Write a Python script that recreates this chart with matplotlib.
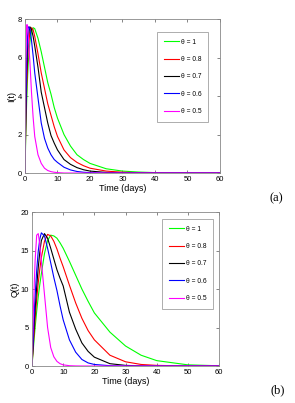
import matplotlib
matplotlib.use("Agg")
import matplotlib.pyplot as plt

t = [0, 0.25, 0.5, 0.75, 1, 1.5, 2, 2.5, 3, 4, 5, 6, 7, 8, 9, 10, 12, 14, 16, 18, 20, 25, 30, 35, 40, 50, 60]

labels = ["\u03b8 = 1", "\u03b8 = 0.8", "\u03b8 = 0.7", "\u03b8 = 0.6", "\u03b8 = 0.5"]
colors = ["#00ff00", "#ff0000", "#000000", "#0000ff", "#ff00ff"]

I_1 = [0, 2.0, 3.6, 4.8, 5.7, 6.8, 7.35, 7.55, 7.5, 7.0, 6.3, 5.5, 4.7, 4.1, 3.4, 2.85, 2.0, 1.4, 0.95, 0.7, 0.5, 0.22, 0.1, 0.05, 0.02, 0.005, 0]
I_08 = [0, 2.5, 4.3, 5.6, 6.5, 7.3, 7.55, 7.45, 7.1, 6.2, 5.2, 4.4, 3.6, 3.0, 2.4, 1.9, 1.2, 0.8, 0.55, 0.38, 0.25, 0.1, 0.04, 0.015, 0.005, 0, 0]
I_07 = [0, 3.0, 5.0, 6.3, 7.1, 7.6, 7.45, 7.1, 6.6, 5.5, 4.2, 3.4, 2.6, 1.95, 1.55, 1.2, 0.7, 0.45, 0.28, 0.17, 0.1, 0.03, 0.01, 0, 0, 0, 0]
I_06 = [0, 3.6, 5.8, 7.0, 7.6, 7.5, 6.9, 6.1, 5.2, 3.9, 2.6, 1.8, 1.3, 0.95, 0.7, 0.55, 0.3, 0.16, 0.08, 0.04, 0.02, 0, 0, 0, 0, 0, 0]
I_05 = [0, 5.5, 7.7, 7.7, 7.2, 5.8, 4.2, 2.9, 1.9, 0.95, 0.5, 0.25, 0.13, 0.07, 0.04, 0.02, 0, 0, 0, 0, 0, 0, 0, 0, 0, 0, 0]

Q_1 = [0, 1.3, 2.6, 3.8, 5.0, 7.1, 9.0, 10.6, 12.0, 14.6, 16.3, 17.0, 16.9, 16.6, 16.0, 15.3, 13.6, 11.8, 10.0, 8.4, 6.9, 4.4, 2.6, 1.4, 0.7, 0.15, 0.03]
Q_08 = [0, 1.6, 3.2, 4.7, 6.1, 8.7, 10.8, 12.6, 14.1, 16.2, 17.1, 16.9, 16.2, 15.2, 14.0, 12.9, 10.5, 8.2, 6.2, 4.6, 3.4, 1.4, 0.55, 0.2, 0.08, 0.01, 0]
Q_07 = [0, 2.0, 3.9, 5.7, 7.4, 10.3, 12.8, 14.8, 16.3, 17.2, 16.6, 15.3, 13.9, 12.5, 11.4, 10.4, 7.0, 4.8, 3.0, 1.9, 1.15, 0.3, 0.08, 0.02, 0, 0, 0]
Q_06 = [0, 2.5, 4.9, 7.1, 9.1, 12.4, 14.9, 16.5, 17.3, 16.9, 15.3, 13.4, 11.5, 9.8, 7.8, 6.0, 3.4, 1.8, 0.85, 0.4, 0.2, 0.04, 0, 0, 0, 0, 0]
Q_05 = [0, 4.0, 7.8, 11.0, 13.7, 17.0, 17.2, 15.8, 13.6, 9.3, 5.0, 2.4, 1.2, 0.6, 0.3, 0.15, 0.04, 0.01, 0, 0, 0, 0, 0, 0, 0, 0, 0]

I_series = [I_1, I_08, I_07, I_06, I_05]
Q_series = [Q_1, Q_08, Q_07, Q_06, Q_05]

xticks = [0, 10, 20, 30, 40, 50, 60]
I_yticks = [0, 2, 4, 6, 8]
Q_yticks = [0, 5, 10, 15, 20]

plt.rcParams['font.family'] = ['Liberation Sans', 'DejaVu Sans']

fig = plt.figure(figsize=(2.95, 4.03), dpi=100)
ax1 = fig.add_axes([0.0847, 0.5707, 0.661, 0.3821])
ax2 = fig.add_axes([0.1085, 0.0918, 0.634, 0.3820])

def style(ax, yticks, ylabel, leg_anchor):
    ax.set_xlim(0, 60)
    ax.set_ylim(yticks[0], yticks[-1])
    ax.set_xticks(xticks)
    ax.set_yticks(yticks)
    ax.tick_params(direction='in', length=2, width=0.5, labelsize=5.5, pad=2,
                   top=True, right=True, colors='#555555', labelcolor='black')
    for s in ax.spines.values():
        s.set_color('#888888')
        s.set_linewidth(0.6)
    ax.set_xlabel('Time (days)', fontsize=6.5, labelpad=1)
    ax.set_ylabel(ylabel, fontsize=6.5, labelpad=1)
    leg = ax.legend(loc='upper left', bbox_to_anchor=leg_anchor, fontsize=4.8,
                    handlelength=2.3, handletextpad=0.3, labelspacing=1.55,
                    borderpad=1.0, borderaxespad=0, frameon=True, fancybox=False)
    leg.get_frame().set_edgecolor('#888888')
    leg.get_frame().set_linewidth(0.6)

for ys, c, lab in zip(I_series, colors, labels):
    ax1.plot(t, ys, color=c, lw=0.8, label=lab)
for ys, c, lab in zip(Q_series, colors, labels):
    ax2.plot(t, ys, color=c, lw=0.8, label=lab)

style(ax1, I_yticks, 'I(t)', (0.677, 0.916))
style(ax2, Q_yticks, 'Q(t)', (0.695, 0.955))

fig.text(276/295, 1 - 198/403, '(a)', fontsize=9, family='Liberation Serif', ha='center', va='center')
fig.text(278/295, 1 - 390/403, '(b)', fontsize=9, family='Liberation Serif', ha='center', va='center')

fig.savefig('out.png', dpi=100)
